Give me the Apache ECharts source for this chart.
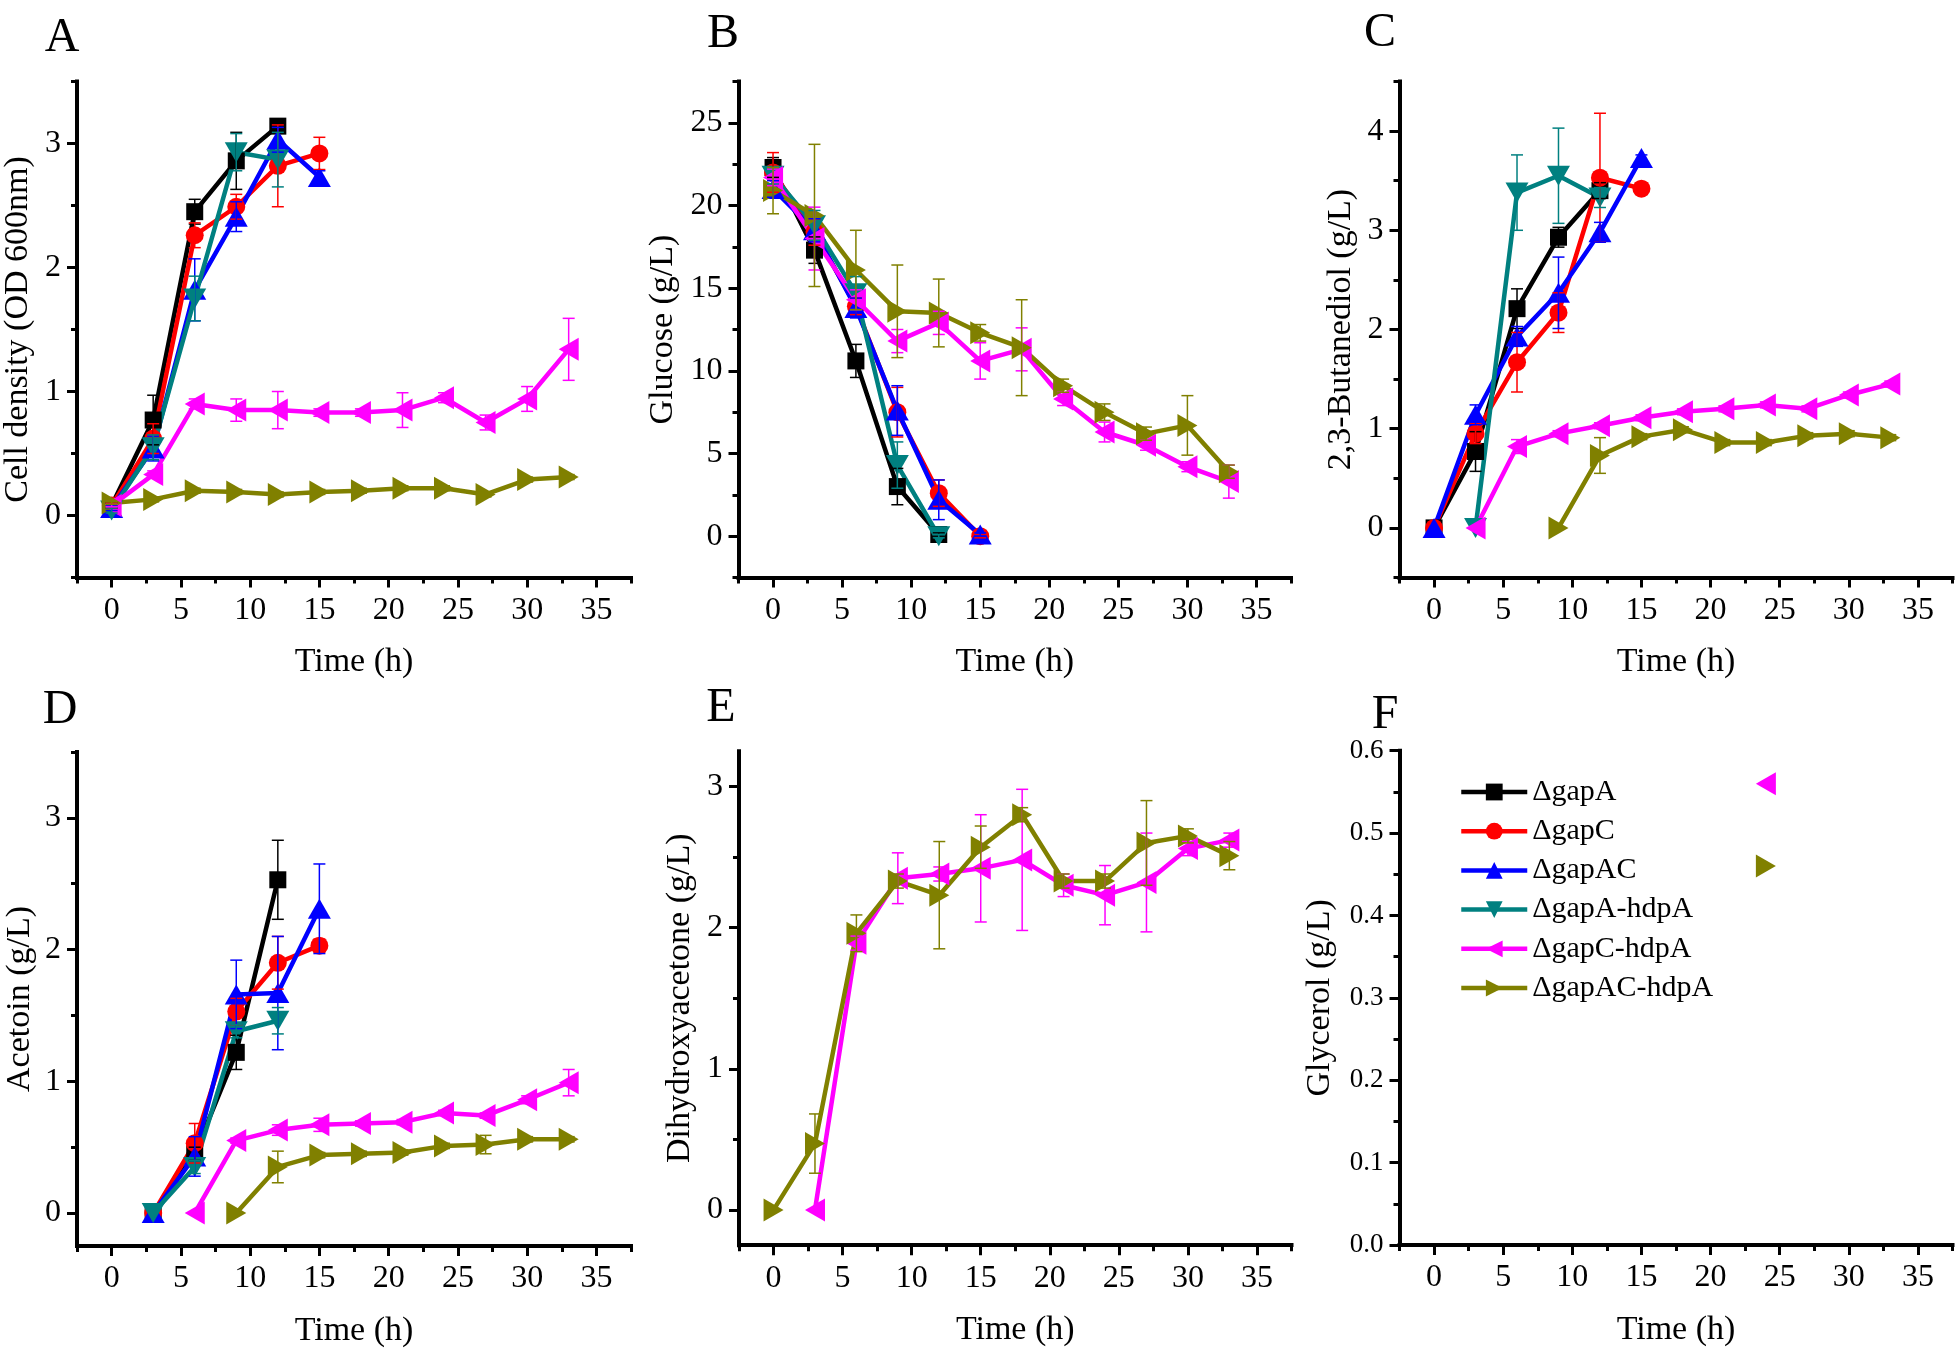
<!DOCTYPE html>
<html><head><meta charset="utf-8">
<script src="https://cdn.jsdelivr.net/npm/echarts@6.0.0/dist/echarts.min.js"></script>
<style>html,body{margin:0;padding:0;background:#fff;}#c{width:1960px;height:1354px;}</style>
</head><body><div id="c"></div>
<script>
// ---------------- DATA ----------------
const time = [0, 3, 6, 9, 12, 15, 18, 21, 24, 27, 30, 33];
const strains = ['ΔgapA', 'ΔgapC', 'ΔgapAC', 'ΔgapA-hdpA', 'ΔgapC-hdpA', 'ΔgapAC-hdpA'];
const xTickLabels = [0, 5, 10, 15, 20, 25, 30, 35];

// A: Cell density (OD 600nm)
const A_gapA = [0.08, 0.77, 2.45, 2.86, 3.14];
const A_gapA_sd = [0.02, 0.2, 0.1, 0.23, 0.05];
const A_gapC = [0.08, 0.62, 2.26, 2.49, 2.82, 2.92];
const A_gapC_sd = [0.02, 0.12, 0.1, 0.1, 0.33, 0.13];
const A_gapAC = [0.06, 0.54, 1.82, 2.41, 3.03, 2.73];
const A_gapAC_sd = [0.02, 0.1, 0.25, 0.12, 0.1, 0.05];
const A_gapA_hdpA = [0.04, 0.55, 1.75, 2.93, 2.87];
const A_gapA_hdpA_sd = [0.02, 0.1, 0.18, 0.15, 0.22];
const A_gapC_hdpA = [0.08, 0.33, 0.9, 0.85, 0.85, 0.83, 0.83, 0.85, 0.95, 0.75, 0.94, 1.34];
const A_gapC_hdpA_sd = [0.01, 0.03, 0.04, 0.09, 0.15, 0.03, 0.03, 0.14, 0.04, 0.06, 0.1, 0.25];
const A_gapAC_hdpA = [0.1, 0.13, 0.2, 0.19, 0.17, 0.19, 0.2, 0.22, 0.22, 0.17, 0.29, 0.31];
const A_gapAC_hdpA_sd = [0.01, 0.02, 0.02, 0.02, 0.02, 0.02, 0.02, 0.02, 0.02, 0.02, 0.02, 0.02];

// B: Glucose (g/L)
const B_gapA = [22.3, 17.3, 10.6, 3.0, 0.1];
const B_gapA_sd = [0.6, 0.8, 1.0, 1.1, 0.1];
const B_gapC = [22.0, 18.4, 13.9, 7.5, 2.6, 0];
const B_gapC_sd = [1.2, 0.8, 0.5, 1.5, 0.8, 0.1];
const B_gapAC = [21.0, 18.5, 13.8, 7.6, 2.2, 0.1];
const B_gapAC_sd = [0.5, 0.7, 0.6, 1.5, 1.2, 0.1];
const B_gapA_hdpA = [21.8, 18.8, 14.7, 4.3, 0];
const B_gapA_hdpA_sd = [0.5, 0.9, 1.0, 1.4, 0.1];
const B_gapC_hdpA = [21.7, 18.0, 14.3, 11.8, 12.9, 10.6, 11.3, 8.3, 6.3, 5.5, 4.2, 3.3];
const B_gapC_hdpA_sd = [0.5, 1.9, 0.6, 0.7, 0.7, 1.1, 1.3, 0.4, 0.6, 0.3, 0.3, 1.0];
const B_gapAC_hdpA = [20.9, 19.4, 16.1, 13.6, 13.5, 12.3, 11.4, 9.1, 7.5, 6.2, 6.7, 3.9];
const B_gapAC_hdpA_sd = [1.4, 4.3, 2.4, 2.8, 2.05, 0.5, 2.9, 0.4, 0.5, 0.4, 1.8, 0.4];

// C: 2,3-Butanediol (g/L)
const C_gapA = [0, 0.77, 2.21, 2.93, 3.40];
const C_gapA_sd = [0, 0.2, 0.2, 0.1, 0.08];
const C_gapC = [0, 0.95, 1.67, 2.17, 3.53, 3.42];
const C_gapC_sd = [0, 0.1, 0.3, 0.2, 0.65, 0.06];
const C_gapAC = [0, 1.14, 1.93, 2.37, 2.98, 3.73];
const C_gapAC_sd = [0, 0.1, 0.1, 0.36, 0.1, 0.03];
const C_gapA_hdpA = [null, 0, 3.38, 3.55, 3.33];
const C_gapA_hdpA_sd = [null, 0, 0.38, 0.48, 0.1];
const C_gapC_hdpA = [null, 0, 0.82, 0.95, 1.03, 1.11, 1.17, 1.2, 1.24, 1.2, 1.34, 1.45];
const C_gapC_hdpA_sd = [null, 0, 0.07, 0.03, 0.03, 0.03, 0.03, 0.03, 0.03, 0.03, 0.03, 0.03];
const C_gapAC_hdpA = [null, null, null, 0, 0.73, 0.92, 0.99, 0.86, 0.86, 0.93, 0.95, 0.91];
const C_gapAC_hdpA_sd = [null, null, null, 0, 0.18, 0.03, 0.03, 0.03, 0.03, 0.03, 0.03, 0.03];

// D: Acetoin (g/L)
const D_gapA = [null, 0, 0.45, 1.22, 2.53];
const D_gapA_sd = [null, 0, 0.05, 0.13, 0.3];
const D_gapC = [null, 0, 0.53, 1.53, 1.9, 2.03];
const D_gapC_sd = [null, 0, 0.15, 0.1, 0.2, 0.05];
const D_gapAC = [null, 0, 0.43, 1.66, 1.67, 2.31];
const D_gapAC_sd = [null, 0, 0.15, 0.26, 0.43, 0.34];
const D_gapA_hdpA = [null, 0, 0.35, 1.38, 1.46];
const D_gapA_hdpA_sd = [null, 0, 0.05, 0.05, 0.1];
const D_gapC_hdpA = [null, null, 0, 0.55, 0.63, 0.67, 0.68, 0.69, 0.76, 0.74, 0.86, 0.99];
const D_gapC_hdpA_sd = [null, null, 0, 0.02, 0.04, 0.05, 0.02, 0.02, 0.02, 0.02, 0.03, 0.1];
const D_gapAC_hdpA = [null, null, null, 0, 0.35, 0.44, 0.45, 0.46, 0.51, 0.52, 0.56, 0.56];
const D_gapAC_hdpA_sd = [null, null, null, 0, 0.12, 0.02, 0.02, 0.02, 0.02, 0.07, 0.02, 0.02];

// E: Dihydroxyacetone (g/L)
const E_gapC_hdpA = [null, 0, 1.89, 2.35, 2.38, 2.42, 2.48, 2.30, 2.23, 2.32, 2.56, 2.62];
const E_gapC_hdpA_sd = [null, 0, 0.05, 0.18, 0.05, 0.38, 0.5, 0.08, 0.21, 0.35, 0.05, 0.05];
const E_gapAC_hdpA = [0, 0.47, 1.96, 2.33, 2.23, 2.57, 2.80, 2.33, 2.33, 2.60, 2.65, 2.51];
const E_gapAC_hdpA_sd = [0, 0.21, 0.13, 0.05, 0.38, 0.15, 0.05, 0.05, 0.05, 0.3, 0.05, 0.1];

// F: Glycerol (g/L)
const F_gapC_hdpA = [null, null, null, null, null, null, null, null, 0.56];
const F_gapC_hdpA_sd = [null, null, null, null, null, null, null, null, 0];
const F_gapAC_hdpA = [null, null, null, null, null, null, null, null, 0.46];
const F_gapAC_hdpA_sd = [null, null, null, null, null, null, null, null, 0];

// ---------------- STYLE ----------------
const FONT = 'Liberation Serif';
const COLORS = ['#000000', '#ff0000', '#0000ff', '#008080', '#ff00ff', '#808000'];
const SYMBOLS = ['rect', 'circle', 'triangle', 'triangle', 'triangle', 'triangle'];
const ROTATE = [0, 0, 0, 180, 90, -90];
const SIZES = [17, 18, [23, 20], [23, 20], [23, 20], [23, 20]];

const panels = [
  {letter: 'A', lx: 62, ly: 38, grid: {left: 77, top: 81.5, width: 554, height: 496},
   y: [-0.5, 3.5, 1, 0.5], yName: 'Cell density (OD 600nm)', yGap: 42, ylf: 32, dec: 0,
   series: [[0, A_gapA, A_gapA_sd], [1, A_gapC, A_gapC_sd], [2, A_gapAC, A_gapAC_sd], [3, A_gapA_hdpA, A_gapA_hdpA_sd], [4, A_gapC_hdpA, A_gapC_hdpA_sd], [5, A_gapAC_hdpA, A_gapAC_hdpA_sd]]},
  {letter: 'B', lx: 723, ly: 34, grid: {left: 738.5, top: 81.5, width: 552.5, height: 496},
   y: [-2.5, 27.5, 5, 2.5], yName: 'Glucose (g/L)', yGap: 58, ylf: 32, dec: 0,
   series: [[0, B_gapA, B_gapA_sd], [1, B_gapC, B_gapC_sd], [2, B_gapAC, B_gapAC_sd], [3, B_gapA_hdpA, B_gapA_hdpA_sd], [4, B_gapC_hdpA, B_gapC_hdpA_sd], [5, B_gapAC_hdpA, B_gapAC_hdpA_sd]]},
  {letter: 'C', lx: 1380, ly: 33, grid: {left: 1399.5, top: 81.5, width: 553, height: 496},
   y: [-0.5, 4.5, 1, 0.5], yName: '2,3-Butanediol (g/L)', yGap: 41, ylf: 32, dec: 0,
   series: [[0, C_gapA, C_gapA_sd], [1, C_gapC, C_gapC_sd], [2, C_gapAC, C_gapAC_sd], [3, C_gapA_hdpA, C_gapA_hdpA_sd], [4, C_gapC_hdpA, C_gapC_hdpA_sd], [5, C_gapAC_hdpA, C_gapAC_hdpA_sd]]},
  {letter: 'D', lx: 60, ly: 710, grid: {left: 77, top: 752, width: 554, height: 494},
   y: [-0.25, 3.5, 1, 0.5], yName: 'Acetoin (g/L)', yGap: 40, ylf: 32, dec: 0,
   series: [[0, D_gapA, D_gapA_sd], [1, D_gapC, D_gapC_sd], [2, D_gapAC, D_gapAC_sd], [3, D_gapA_hdpA, D_gapA_hdpA_sd], [4, D_gapC_hdpA, D_gapC_hdpA_sd], [5, D_gapAC_hdpA, D_gapAC_hdpA_sd]]},
  {letter: 'E', lx: 721, ly: 708, grid: {left: 739, top: 751.2, width: 552.5, height: 494},
   y: [-0.25, 3.25, 1, 0.5], yName: 'Dihydroxyacetone (g/L)', yGap: 42, ylf: 32, dec: 0,
   series: [[4, E_gapC_hdpA, E_gapC_hdpA_sd], [5, E_gapAC_hdpA, E_gapAC_hdpA_sd]]},
  {letter: 'F', lx: 1385, ly: 715, grid: {left: 1399.5, top: 750.7, width: 553, height: 494.3},
   y: [0, 0.6, 0.1, 0.05], yName: 'Glycerol (g/L)', yGap: 62, ylf: 27, dec: 1,
   series: [[4, F_gapC_hdpA, F_gapC_hdpA_sd], [5, F_gapAC_hdpA, F_gapAC_hdpA_sd]]}
];

function stepValues(min, max, step) {
  const out = [];
  const k0 = Math.ceil(min / step - 1e-9), k1 = Math.floor(max / step + 1e-9);
  for (let k = k0; k <= k1; k++) out.push(Math.round(k * step * 1e6) / 1e6);
  return out;
}
const xMinor = stepValues(-2.5, 37.5, 2.5).filter(v => xTickLabels.indexOf(v) < 0);

const txt = (size) => ({fontSize: size, fontFamily: FONT, color: '#000'});
const grids = [], xAxes = [], yAxes = [], series = [], graphics = [];

panels.forEach((p, pi) => {
  grids.push(Object.assign({containLabel: false}, p.grid));
  xAxes.push({
    gridIndex: pi, type: 'value', min: -2.5, max: 37.5, position: 'bottom',
    name: 'Time (h)', nameLocation: 'middle', nameGap: 68, nameTextStyle: txt(34),
    axisLine: {show: true, onZero: false, lineStyle: {color: '#000', width: 4, cap: 'square'}},
    axisTick: {show: true, customValues: xTickLabels, length: 10, lineStyle: {color: '#000', width: 3}},
    axisLabel: Object.assign({show: true, customValues: xTickLabels, margin: 17}, txt(32)),
    splitLine: {show: false}
  });
  xAxes.push({
    gridIndex: pi, type: 'value', min: -2.5, max: 37.5, position: 'bottom',
    axisLine: {show: false, onZero: false},
    axisTick: {show: true, customValues: xMinor, length: 6, lineStyle: {color: '#000', width: 3}},
    axisLabel: {show: false}, splitLine: {show: false}
  });
  const [ymin, ymax, ymaj, ymin2] = p.y;
  const yMajor = stepValues(ymin, ymax, ymaj);
  const yMinorV = stepValues(ymin, ymax, ymin2).filter(v => yMajor.indexOf(v) < 0);
  yAxes.push({
    gridIndex: pi, type: 'value', min: ymin, max: ymax, position: 'left',
    name: p.yName, nameLocation: 'middle', nameGap: p.yGap, nameTextStyle: txt(34),
    axisLine: {show: true, onZero: false, lineStyle: {color: '#000', width: 4, cap: 'square'}},
    axisTick: {show: true, customValues: yMajor, length: 10, lineStyle: {color: '#000', width: 3}},
    axisLabel: Object.assign({show: true, customValues: yMajor, margin: 16,
      formatter: v => Number(v).toFixed(p.dec)}, txt(p.ylf)),
    splitLine: {show: false}
  });
  yAxes.push({
    gridIndex: pi, type: 'value', min: ymin, max: ymax, position: 'left',
    axisLine: {show: false, onZero: false},
    axisTick: {show: true, customValues: yMinorV, length: 6, lineStyle: {color: '#000', width: 3}},
    axisLabel: {show: false}, splitLine: {show: false}
  });

  p.series.forEach(([si, vals, sds]) => {
    const pts = [], bars = [];
    vals.forEach((v, i) => {
      if (v === null || v === undefined) return;
      pts.push([time[i], v]);
      if (sds[i] > 0) bars.push([time[i], v, sds[i]]);
    });
    const col = COLORS[si];
    series.push({
      type: 'line', name: strains[si], xAxisIndex: 2 * pi, yAxisIndex: 2 * pi, data: pts,
      symbol: SYMBOLS[si], symbolSize: SIZES[si], symbolRotate: ROTATE[si], showSymbol: true,
      lineStyle: {width: 4.5, color: col}, itemStyle: {color: col, borderWidth: 0},
      emphasis: {disabled: true}, z: 2, animation: false, clip: false
    });
    series.push({
      type: 'custom', name: strains[si] + ' SD', xAxisIndex: 2 * pi, yAxisIndex: 2 * pi, data: bars,
      encode: {x: 0, y: 1}, z: 3, silent: true, animation: false,
      renderItem: (params, api) => {
        const x = api.value(0), y = api.value(1), e = api.value(2);
        const a = api.coord([x, y + e]), b = api.coord([x, y - e]);
        const w = 6, st = {stroke: col, lineWidth: 1.5};
        return {type: 'group', children: [
          {type: 'line', shape: {x1: a[0], y1: a[1], x2: b[0], y2: b[1]}, style: st},
          {type: 'line', shape: {x1: a[0] - w, y1: a[1], x2: a[0] + w, y2: a[1]}, style: st},
          {type: 'line', shape: {x1: b[0] - w, y1: b[1], x2: b[0] + w, y2: b[1]}, style: st}
        ]};
      }
    });
  });

  graphics.push({type: 'text', x: p.lx, y: p.ly, style: {text: p.letter, fontSize: 48, fontFamily: FONT,
    fill: '#000', align: 'center', verticalAlign: 'middle'}});
});

const chart = echarts.init(document.getElementById('c'), null, {renderer: 'canvas'});
chart.setOption({
  backgroundColor: '#ffffff',
  animation: false,
  grid: grids, xAxis: xAxes, yAxis: yAxes, series: series,
  graphic: graphics,
  legend: {
    data: strains, orient: 'vertical', left: 1459, top: 777, padding: 0,
    itemWidth: 66, itemHeight: 21, itemGap: 9.2, selectedMode: false,
    lineStyle: {width: 4.5}, textStyle: txt(30)
  }
});
</script></body></html>
